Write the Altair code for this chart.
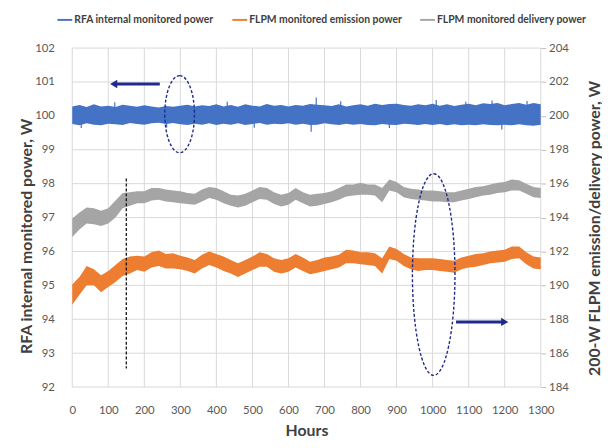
import altair as alt
import pandas as pd

# ---------------- data ----------------
HOURS = list(range(0, 1301, 20))  # sampling grid, 66 points

BLUE_HI = [100.28, 100.32, 100.26, 100.34, 100.28, 100.30, 100.26, 100.33, 100.30, 100.27,
           100.31, 100.28, 100.25, 100.29, 100.27, 100.30, 100.33, 100.28, 100.31, 100.29,
           100.34, 100.28, 100.32, 100.27, 100.34, 100.30, 100.28, 100.35, 100.30, 100.32,
           100.28, 100.32, 100.30, 100.35, 100.33, 100.31, 100.29, 100.34, 100.28, 100.31,
           100.34, 100.30, 100.36, 100.32, 100.35, 100.36, 100.32, 100.30, 100.34, 100.31,
           100.36, 100.30, 100.34, 100.29, 100.33, 100.36, 100.31, 100.37, 100.35, 100.38,
           100.31, 100.35, 100.38, 100.33, 100.38, 100.34]
BLUE_LO = [99.76, 99.72, 99.78, 99.74, 99.72, 99.77, 99.75, 99.73, 99.79, 99.76,
           99.74, 99.78, 99.80, 99.76, 99.79, 99.75, 99.73, 99.77, 99.74, 99.78,
           99.73, 99.77, 99.74, 99.78, 99.73, 99.76, 99.79, 99.74, 99.77, 99.75,
           99.78, 99.74, 99.77, 99.73, 99.74, 99.78, 99.75, 99.73, 99.77, 99.74,
           99.76, 99.73, 99.72, 99.76, 99.74, 99.73, 99.77, 99.75, 99.73, 99.76,
           99.73, 99.76, 99.72, 99.75, 99.72, 99.74, 99.72, 99.75, 99.73, 99.72,
           99.74, 99.72, 99.75, 99.72, 99.71, 99.74]
# thin needle-like excursions of the blue trace: (hours, tip value)
BLUE_SPIKE_H = [25, 118, 262, 430, 505, 663, 677, 745, 880, 1010, 1092, 1165, 1192, 1262]
BLUE_SPIKE_V = [99.64, 100.40, 99.66, 100.42, 99.65, 99.53, 100.54, 100.43, 99.64,
                100.47, 100.42, 100.45, 99.60, 100.44]

ORANGE_HI = [190.05, 190.50, 191.15, 190.95, 190.60, 190.85, 191.20, 191.55, 191.70, 191.75,
             191.70, 191.95, 192.05, 191.85, 191.90, 191.75, 191.65, 191.50, 191.80, 192.00,
             191.85, 191.70, 191.50, 191.30, 191.50, 191.70, 191.95, 191.85, 191.60, 191.50,
             191.60, 191.85, 191.65, 191.40, 191.50, 191.65, 191.70, 191.80, 192.10, 192.05,
             191.95, 191.95, 191.90, 191.60, 192.30, 192.15, 191.85, 191.65, 191.60, 191.60,
             191.60, 191.55, 191.50, 191.45, 191.65, 191.75, 191.85, 191.90, 192.00, 192.05,
             192.10, 192.30, 192.30, 191.95, 191.70, 191.65]
ORANGE_LO = [188.85, 189.45, 190.00, 190.00, 189.60, 189.90, 190.20, 190.55, 190.70, 190.90,
             190.80, 191.05, 191.15, 191.00, 191.00, 190.95, 190.85, 190.70, 191.00, 191.20,
             191.05, 190.85, 190.70, 190.50, 190.70, 190.90, 191.10, 191.10, 190.80, 190.70,
             190.80, 191.05, 190.85, 190.65, 190.75, 190.85, 190.95, 191.05, 191.30, 191.30,
             191.25, 191.20, 191.15, 190.70, 191.55, 191.45, 191.15, 190.95, 190.85, 190.90,
             190.90, 190.85, 190.80, 190.75, 190.95, 191.05, 191.10, 191.20, 191.30, 191.35,
             191.40, 191.55, 191.60, 191.25, 191.00, 190.95]

GRAY_HI = [193.95, 194.30, 194.60, 194.55, 194.40, 194.55, 195.00, 195.45, 195.50, 195.55,
           195.55, 195.75, 195.75, 195.65, 195.60, 195.55, 195.45, 195.40, 195.65, 195.80,
           195.75, 195.55, 195.35, 195.30, 195.40, 195.60, 195.80, 195.75, 195.50, 195.35,
           195.45, 195.75, 195.50, 195.35, 195.40, 195.45, 195.55, 195.75, 195.95, 195.95,
           196.05, 195.95, 195.95, 195.75, 196.25, 196.10, 195.80, 195.70, 195.65, 195.60,
           195.60, 195.55, 195.50, 195.50, 195.60, 195.70, 195.80, 195.85, 195.95, 196.05,
           196.10, 196.25, 196.20, 196.00, 195.80, 195.75]
GRAY_LO = [192.85, 193.30, 193.65, 193.60, 193.50, 193.65, 194.00, 194.55, 194.70, 194.85,
           194.85, 195.00, 195.05, 194.95, 194.90, 194.85, 194.80, 194.75, 194.95, 195.15,
           195.05, 194.85, 194.70, 194.60, 194.70, 194.90, 195.10, 195.05, 194.80, 194.65,
           194.75, 195.05, 194.85, 194.65, 194.70, 194.80, 194.90, 195.05, 195.25, 195.30,
           195.35, 195.35, 195.30, 194.90, 195.60, 195.50, 195.20, 195.10, 195.05, 195.00,
           194.95, 194.95, 194.90, 194.90, 195.00, 195.10, 195.20, 195.30, 195.35, 195.45,
           195.50, 195.60, 195.60, 195.40, 195.20, 195.15]

SERIES = ["RFA internal monitored power", "FLPM monitored emission power",
          "FLPM monitored delivery power"]
COLORS = ["#4472C4", "#ED7D31", "#A5A5A5"]

X_TICKS = [0, 100, 200, 300, 400, 500, 600, 700, 800, 900, 1000, 1100, 1200, 1300]
LEFT_TICKS = [92, 93, 94, 95, 96, 97, 98, 99, 100, 101, 102]
RIGHT_TICKS = [184, 186, 188, 190, 192, 194, 196, 198, 200, 202, 204]

# annotations (left-axis units)
ARROW_LEFT = {"x_tip": 115, "x_tail": 243, "y": 100.94}
ARROW_RIGHT = {"x_tail": 1065, "x_tip": 1200, "y": 93.92}
ELLIPSES = {"hours": [298, 1003], "value": [100.05, 95.32]}
VLINE = {"hours": 150, "top": 98.15, "bottom": 92.55}

NAVY = "#1F2A8A"
FONT = "Lato"
GRID = "#d9d9d9"

# ---------------- frames ----------------
blue_df = pd.DataFrame({"hours": HOURS, "lo": BLUE_LO, "hi": BLUE_HI, "series": SERIES[0]})
orange_df = pd.DataFrame({"hours": HOURS, "lo": ORANGE_LO, "hi": ORANGE_HI, "series": SERIES[1]})
gray_df = pd.DataFrame({"hours": HOURS, "lo": GRAY_LO, "hi": GRAY_HI, "series": SERIES[2]})
right_df = pd.concat([orange_df, gray_df], ignore_index=True)
spike_df = pd.DataFrame({"hours": BLUE_SPIKE_H, "tip": BLUE_SPIKE_V, "base": 100.02})
xgrid_df = pd.DataFrame({"hours": X_TICKS})
ygrid_df = pd.DataFrame({"v": LEFT_TICKS})

xscale = alt.Scale(domain=[0, 1300], nice=False)
lscale = alt.Scale(domain=[92, 102], nice=False)
rscale = alt.Scale(domain=[184, 204], nice=False)

# one identical x-axis definition for every layer (shared axis merges cleanly)
X_AXIS = alt.Axis(values=X_TICKS, title="Hours", grid=False, ticks=False,
                  labelPadding=18, titlePadding=7, domain=False, format="d",
                  labelOverlap=False, labelFlush=False)
left_axis = alt.Axis(values=LEFT_TICKS, title="RFA internal monitored power, W", orient="left",
                     grid=False, ticks=False, domain=False, labelPadding=18,
                     titleX=-46, titleY=190, titleBaseline="middle", titleAngle=270,
                     format="d", labelFlush=False)
right_axis = alt.Axis(values=RIGHT_TICKS, title="200-W FLPM emission/delivery power, W",
                      orient="right", grid=False, ticks=True, tickSize=5, tickColor="#bfbfbf",
                      domain=False, labelPadding=3, titleAngle=270, titleBaseline="middle",
                      titleX=54, titleY=182, format="d", labelFlush=False)

COLOR = alt.Color(
    "series:N", scale=alt.Scale(domain=SERIES, range=COLORS),
    legend=alt.Legend(orient="none", legendX=-15, legendY=-36, direction="horizontal",
                      title=None, symbolType="M-1,-0.13H1V0.13H-1Z", symbolSize=225,
                      symbolStrokeWidth=0, labelLimit=300,
                      labelFont=FONT, labelFontSize=10.5, labelColor="#404040",
                      labelFontWeight="bold", columnPadding=18, labelOffset=2))


def xq(field="hours"):
    return alt.X(field, type="quantitative", scale=xscale, axis=X_AXIS)


def yl(field):
    return alt.Y(field, type="quantitative", scale=lscale, axis=None)


# gridlines from the tick arrays
xgrid = alt.Chart(xgrid_df).mark_rule(color=GRID, strokeWidth=1).encode(x=xq("hours"))
ygrid = alt.Chart(ygrid_df).mark_rule(color=GRID, strokeWidth=1).encode(
    x=alt.value(0), x2=alt.value(474), y=alt.Y("v:Q", scale=lscale, axis=left_axis))

# orange & gray bands (right axis)
right_area = alt.Chart(right_df).mark_area(opacity=1, interpolate="linear").encode(
    x=xq(),
    y=alt.Y("lo:Q", scale=rscale, axis=right_axis),
    y2="hi:Q",
    color=COLOR,
    detail="series:N",
)
# blue band (left axis)
blue_area = alt.Chart(blue_df).mark_area(opacity=1, interpolate="linear").encode(
    x=xq(), y=yl("lo"), y2="hi:Q", color=COLOR)
blue_spikes = alt.Chart(spike_df).mark_rule(color=COLORS[0], strokeWidth=1.2).encode(
    x=xq(), y=yl("base"), y2="tip:Q")

arrows_df = pd.DataFrame({
    "x1": [ARROW_LEFT["x_tip"] + 8, ARROW_RIGHT["x_tail"]],
    "x2": [ARROW_LEFT["x_tail"], ARROW_RIGHT["x_tip"] - 8],
    "y": [ARROW_LEFT["y"], ARROW_RIGHT["y"]],
})
arrow_shafts = alt.Chart(arrows_df).mark_rule(color=NAVY, strokeWidth=3).encode(
    x=xq("x1"), x2="x2:Q", y=yl("y"))
head_left = alt.Chart(pd.DataFrame({"x": [ARROW_LEFT["x_tip"]], "y": [ARROW_LEFT["y"]]})).mark_point(
    shape="triangle-left", filled=True, color=NAVY, size=70, opacity=1
).encode(x=xq("x"), y=yl("y"))
head_right = alt.Chart(pd.DataFrame({"x": [ARROW_RIGHT["x_tip"]], "y": [ARROW_RIGHT["y"]]})).mark_point(
    shape="triangle-right", filled=True, color=NAVY, size=70, opacity=1
).encode(x=xq("x"), y=yl("y"))

ell1 = alt.Chart(pd.DataFrame({"x": [ELLIPSES["hours"][0]], "y": [ELLIPSES["value"][0]]})).mark_point(
    shape="M0,-1 A0.385,1 0 1,1 0,1 A0.385,1 0 1,1 0,-1 Z",
    filled=False, color=NAVY, size=6084, strokeWidth=1.4, strokeDash=[3, 2], opacity=1
).encode(x=xq("x"), y=yl("y"))
ell2 = alt.Chart(pd.DataFrame({"x": [ELLIPSES["hours"][1]], "y": [ELLIPSES["value"][1]]})).mark_point(
    shape="M0,-1 A0.211,1 0 1,1 0,1 A0.211,1 0 1,1 0,-1 Z",
    filled=False, color=NAVY, size=41616, strokeWidth=1.4, strokeDash=[3, 2], opacity=1
).encode(x=xq("x"), y=yl("y"))

vline = alt.Chart(pd.DataFrame({"x": [VLINE["hours"]], "y1": [VLINE["top"]], "y2": [VLINE["bottom"]]})).mark_rule(
    color="#111111", strokeWidth=1.3, strokeDash=[3, 2]
).encode(x=xq("x"), y=yl("y1"), y2="y2:Q")

chart = alt.layer(
    xgrid, ygrid, right_area, blue_area, blue_spikes,
    arrow_shafts, head_left, head_right, ell1, ell2, vline
).resolve_scale(y="independent").properties(
    width=474, height=343,
    autosize=alt.AutoSizeParams(type="none"),
    padding={"left": 65, "top": 38, "right": 62, "bottom": 50},
).configure_axis(
    labelFont=FONT, labelFontSize=11.5, labelColor="#595959",
    titleFont=FONT, titleFontSize=16, titleFontWeight="bold", titleColor="#404040",
).configure_view(stroke=None)

chart.save("out.html", embed_options={"renderer": "svg", "actions": False})
